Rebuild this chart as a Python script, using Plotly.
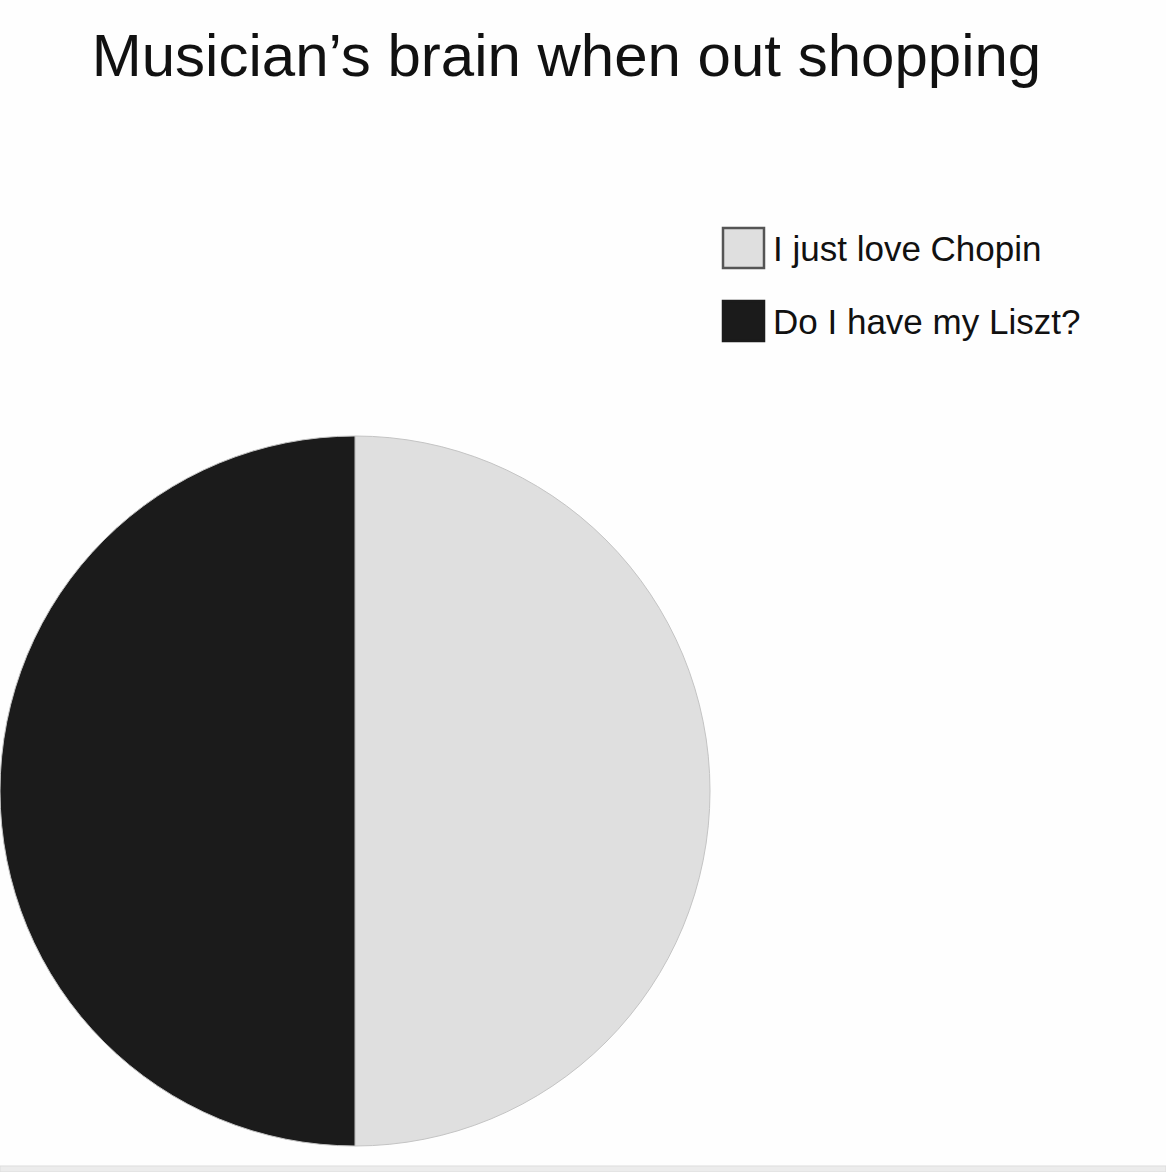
import plotly.graph_objects as go

title_text = "Musician’s brain when out shopping"
labels = ["I just love Chopin", "Do I have my Liszt?"]
values = [50, 50]
colors = ["#dfdfdf", "#1b1b1b"]

W, H = 1166, 1172

fig = go.Figure()
fig.add_trace(go.Pie(
    labels=labels,
    values=values,
    sort=False,
    direction="clockwise",
    rotation=0,
    textinfo="none",
    hoverinfo="label+percent",
    showlegend=False,
    marker=dict(colors=colors, line=dict(color="#c4c4c4", width=1)),
    domain=dict(x=[0, 710 / W], y=[1 - 1146 / H, 1 - 436 / H]),
))

# custom legend (large swatches like the reference)
legend_x0 = 723 / W
legend_x1 = 764 / W
legend_rows_y = [248, 321]  # pixel centers
box_lines = ["#555555", "#1b1b1b"]
shapes = []
annotations = []
for lab, col, lc, yc in zip(labels, colors, box_lines, legend_rows_y):
    shapes.append(dict(type="rect", xref="paper", yref="paper",
                       x0=legend_x0, x1=legend_x1,
                       y0=1 - (yc + 20) / H, y1=1 - (yc - 20) / H,
                       fillcolor=col, line=dict(color=lc, width=2.5)))
    annotations.append(dict(text=lab, xref="paper", yref="paper",
                            x=771 / W, y=1 - yc / H, xanchor="left", yanchor="middle",
                            showarrow=False,
                            font=dict(family="Liberation Sans, Arial, sans-serif", size=35, color="#111111")))

# faint bottom border band like the reference
shapes.append(dict(type="rect", xref="paper", yref="paper", x0=0, x1=1,
                   y0=0, y1=6 / H, fillcolor="#ececec", line=dict(color="#dddddd", width=1), layer="below"))

fig.update_layout(
    width=W, height=H,
    margin=dict(l=0, r=0, t=0, b=0),
    paper_bgcolor="#fefefe",
    plot_bgcolor="#fefefe",
    title=dict(text=title_text, x=566.5 / W, xanchor="center",
               y=1 - 55 / H, yanchor="middle", yref="container",
               font=dict(family="Liberation Sans, Arial, sans-serif", size=60, color="#111111")),
    shapes=shapes,
    annotations=annotations,
)

fig.write_html("out.html", config={"displayModeBar": False},
               post_script="document.body.style.margin='0';document.body.style.overflow='hidden';")
